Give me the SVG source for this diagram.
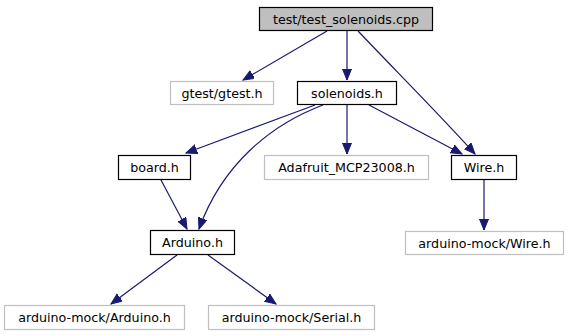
<svg xmlns="http://www.w3.org/2000/svg" width="569" height="336" viewBox="0 0 569 336">
  <style>
    .node rect { stroke-width: 1.2; }
    .doc rect { fill: #ffffff; stroke: #000000; }
    .root rect { fill: #bfbfbf; stroke: #000000; }
    .ext rect { fill: #ffffff; stroke: #bfbfbf; }
    .node text { font-family: "DejaVu Sans", sans-serif; font-size: 12.7px; fill: #000000; text-anchor: middle; }
    .edges path { fill: none; stroke: #191970; stroke-width: 1.2; marker-end: url(#arrow); }
  </style>
  <defs>
    <marker id="arrow" markerUnits="userSpaceOnUse" markerWidth="13" markerHeight="10" refX="11" refY="4.5" orient="auto">
      <path d="M0,0 L11,4.5 L0,9 z" fill="#191970" stroke="#191970" stroke-width="1"/>
    </marker>
  </defs>
  <rect width="569" height="336" fill="#ffffff"/>

  <g class="edges">
    <path d="M327,31 L243,80"/>
    <path d="M347,31 L347,80"/>
    <path d="M358,31 C395,70 440,115 475,154"/>
    <path d="M315,105 L186,153"/>
    <path d="M323,105 C270,125 222,165 199,229"/>
    <path d="M347,105 L347,154"/>
    <path d="M369,105 L462,154"/>
    <path d="M161,180 L187,229"/>
    <path d="M484,180 L484,230"/>
    <path d="M177,255 L111,304"/>
    <path d="M208,255 L276,304"/>
  </g>

  <g id="node-root" class="node root">
    <rect x="259.5" y="7.5" width="173" height="23"/>
    <text x="346" y="23.5">test/test_solenoids.cpp</text>
  </g>
  <g id="node-gtest" class="node ext">
    <rect x="170.5" y="81.5" width="103" height="23"/>
    <text x="222" y="97.5">gtest/gtest.h</text>
  </g>
  <g id="node-solenoids" class="node doc">
    <rect x="297.5" y="81.5" width="99" height="23"/>
    <text x="347" y="97.5">solenoids.h</text>
  </g>
  <g id="node-board" class="node doc">
    <rect x="118.5" y="155.5" width="72" height="24"/>
    <text x="154.5" y="172">board.h</text>
  </g>
  <g id="node-adafruit" class="node ext">
    <rect x="264.5" y="155.5" width="164" height="24"/>
    <text x="346.5" y="172">Adafruit_MCP23008.h</text>
  </g>
  <g id="node-wire" class="node doc">
    <rect x="451.5" y="155.5" width="65" height="24"/>
    <text x="484" y="172">Wire.h</text>
  </g>
  <g id="node-arduino" class="node doc">
    <rect x="150.5" y="230.5" width="84" height="24"/>
    <text x="192.5" y="247">Arduino.h</text>
  </g>
  <g id="node-mock-wire" class="node ext">
    <rect x="405.5" y="231.5" width="158" height="23"/>
    <text x="484.5" y="247.5">arduino-mock/Wire.h</text>
  </g>
  <g id="node-mock-arduino" class="node ext">
    <rect x="4.5" y="305.5" width="180" height="24"/>
    <text x="94.5" y="322">arduino-mock/Arduino.h</text>
  </g>
  <g id="node-mock-serial" class="node ext">
    <rect x="208.5" y="305.5" width="166" height="24"/>
    <text x="291.5" y="322">arduino-mock/Serial.h</text>
  </g>
</svg>
